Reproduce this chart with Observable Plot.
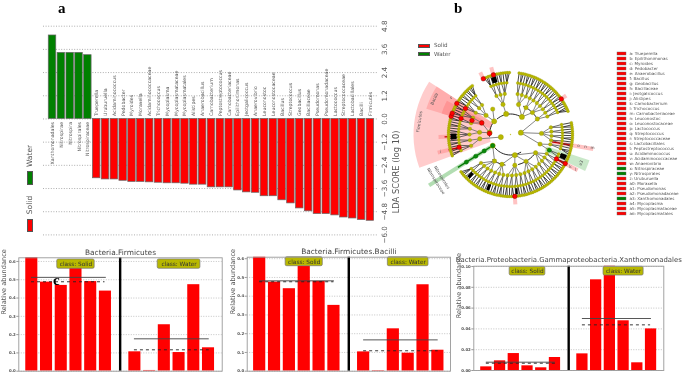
<!DOCTYPE html>
<html><head><meta charset="utf-8">
<script src="https://cdn.jsdelivr.net/npm/d3@7"></script>
<script src="https://cdn.jsdelivr.net/npm/@observablehq/plot@0.6"></script>
<style>
html,body{margin:0;padding:0;background:#fff;}
#root{position:relative;width:685px;height:375px;overflow:hidden;font-family:"DejaVu Sans",sans-serif;filter:blur(0.35px);}
.p{position:absolute;}
.p svg{overflow:visible;max-width:none;}
.tag{position:absolute;font-family:"Liberation Serif",serif;font-weight:bold;font-size:15px;line-height:17px;color:#000;}
.sw{position:absolute;border:0.6px solid #555;box-sizing:border-box;}
.lg{position:absolute;font-size:6px;line-height:8px;color:#555;white-space:nowrap;}
.rot{font-size:7.5px;transform:translate(-50%,-50%) rotate(-90deg);}
</style></head><body><div id="root"></div>
<script>
// ---------- panel a : LDA scores ----------
const waterTaxa = ["Xanthomonadales","Nitrospirae","Nitrospira","Nitrospirales","Nitrospiraceae"];
const waterScores = [4.32,3.42,3.42,3.42,3.3];
const solidTaxa = ["Trueperella","Uruburuella","Acidaminococcus","Pedobacter","Myroides","Moraxella","Acidaminococcaceae","Trichococcus","Mycoplasma","Mycoplasmataceae","Mycoplasmatales","Alistipes","Anaerobacillus","Carnobacterium","Peptostreptococcus","Carnobacteriaceae","Epilithonimonas","Jeotgalicoccus","Anaerovibrio","Leuconostoc","Leuconostocaceae","Bacillus","Streptococcus","Geobacillus","Bacillaceae","Pseudomonas","Pseudomonadaceae","Lactococcus","Streptococcaceae","Lactobacillales","Bacilli","Firmicutes"];
const solidScores = [3.07,3.13,3.13,3.2,3.26,3.26,3.28,3.3,3.33,3.33,3.35,3.4,3.4,3.54,3.54,3.54,3.7,3.8,3.82,4.0,4.0,4.21,4.37,4.63,4.78,4.92,4.92,4.99,5.1,5.15,5.23,5.27];
const ldaTicks = [-6,-4.8,-3.6,-2.4,-1.2,0,1.2,2.4,3.6,4.8];

// ---------- panel b : cladogram (angle clockwise from north, degrees) ----------
const ring5 = [335,337,339,341,343,345,347,349,351,353,355,357,359,
  8,10,12,14,16,18,20,22,24,26,28,30,32,34,36,38,40,42,44,46,48,50,52,54,56,58,60,62,64,66,68,
  79,81,83,85,87,89,91,93,95,97,99,101,103,105,107,109,111,113,115,117,119,121,123,125,127,129,131,133,135,137,139,141,143,145,147,149,151,153,155,157,159,161,163,165,167,169,171,173,175,177,179,181,183,185,187,189,191,193,195,197,199,201,203,205,207,209,211,213,215,217,219,221,223,225,227,229,231,233,
  250,252,254,256,258,260,262,264,266,268,270,272,274,276,278,280,282,284,286,288,290,292,294,296,298,300,302,304,306,308,310,312,314,316,318,320,322];
const ring4 = [338,341,344,347,350,353,356,8,11,14,17,20,23,26,29,32,35,38,41,44,47,50,53,56,59,62,65,
  79,82,85,88,91,94,97,100,103,106,112,115,118,121,124,127,130,133,136,139,142,145,148,151,154,157,160,163,166,169,172,175,178,181,184,187,190,193,196,199,202,205,208,211,214,217,220,223,226,229,
  252,255,258,261,264,267,270,273,276,279,282,285,288,291,294,297,300,303,306,309,312,315,318];
const ring3 = [340,346,352,10,16,22,28,34,40,46,52,58,64,80,86,92,98,104,112,118,124,130,136,142,148,154,160,166,172,178,184,190,196,202,208,214,220,226,254,262,270,278,286,294,302,310,316];
const ring2 = [346,15,30,45,60,88,108,126,150,172,196,211,262,274,292,308,325];
const ring1 = [348,33,168,238,275,309];
const ringRadii = [21,31,41,52,62];
const hubNodes = [{a:255,r:10},{a:80,r:10.5}];
const redNodes = [{a:273,r:21},{a:292,r:31},{a:290,r:41},{a:288,r:52},{a:287,r:62},{a:300,r:52},{a:300,r:62},{a:290,r:62},{a:334,r:62},{a:344,r:62},{a:55,r:62},{a:176,r:62},{a:118,r:52},{a:118,r:62},{a:256,r:53}];
const greenNodes = [{a:238,r:21},{a:238,r:31},{a:238,r:41},{a:238,r:52},{a:112,r:42}];
const wedges = [
  {a0:250,a1:303,r0:21,r1:97,fill:"#ff9999",op:0.5},
  {a0:287,a1:303,r0:21,r1:88,fill:"#ff8080",op:0.4},
  {a0:287,a1:298,r0:31,r1:72,fill:"#ff7070",op:0.4},
  {a0:108,a1:116,r0:38,r1:83,fill:"#88cc88",op:0.45}];
const blackFans = [
  {a0:265,a1:271,r0:54,r1:60},{a0:341,a1:346,r0:54,r1:60},{a0:110,a1:115,r0:54,r1:60},
  {a0:201,a1:204,r0:54,r1:60},{a0:173,a1:175,r0:54,r1:60},{a0:223,a1:226,r0:54,r1:60}];
const arcs = [{a0:320,a1:395,r:20.5},{a0:150,a1:240,r:20.5},{a0:25,a1:62,r:31},{a0:190,a1:215,r:31},{a0:130,a1:165,r:31},{a0:265,a1:300,r:21}];
const strips = [
  {a:100,r0:42,r1:84,c:"#ff8888"},{a:118,r0:51,r1:76,c:"#ff8888"},{a:256,r0:53,r1:75,c:"#ff8888"},{a:268,r0:60,r1:72,c:"#ff8888"},
  {a:334,r0:60,r1:69,c:"#ff8888"},{a:344,r0:60,r1:70,c:"#ff8888"},{a:55,r0:60,r1:68,c:"#ff8888"},{a:176,r0:60,r1:70,c:"#ff8888"},
  {a:238,r0:24,r1:96,c:"#66bb66"}];
const redLinks = [{a:100,r0:42,r1:62},{a:118,r0:52,r1:62},{a:256,r0:53,r1:64},{a:268,r0:60,r1:66}];
const cladeLabels = [
  {a:278,r:92,t:"Firmicutes",rot:-82},{a:295,r:84,t:"Bacilli",rot:-65},{a:112,r:76,t:"a3",rot:-68},
  {a:238,r:88,t:"Nitrospiraceae",rot:58},{a:238,r:81,t:"Nitrospirales",rot:58},
  {a:99,r:69,t:"o",rot:0},{a:99,r:76,t:"n",rot:0},{a:99,r:83,t:"m",rot:0},{a:118,r:68,t:"k",rot:0},{a:118,r:74,t:"l",rot:0},
  {a:256,r:72,t:"i",rot:0},{a:302,r:70,t:"s",rot:0}];

// ---------- legend of panel b ----------
const legendKeys = ["a","b","c","d","e","f","g","h","i","j","k","l","m","n","o","p","q","r","s","t","u","v","w","x","y","z","a0","a1","a2","a3","a4","a5","a6"];
const legendTaxa = ["Trueperella","Epilithonimonas","Myroides","Pedobacter","Anaerobacillus","Bacillus","Geobacillus","Bacillaceae","Jeotgalicoccus","Alistipes","Carnobacterium","Trichococcus","Carnobacteriaceae","Leuconostoc","Leuconostocaceae","Lactococcus","Streptococcus","Streptococcaceae","Lactobacillales","Peptostreptococcus","Acidaminococcus","Acidaminococcaceae","Anaerovibrio","Nitrospiraceae","Nitrospirales","Uruburuella","Moraxella","Pseudomonas","Pseudomonadaceae","Xanthomonadales","Mycoplasma","Mycoplasmataceae","Mycoplasmatales"];
const legendGroup = ["Solid","Solid","Solid","Solid","Solid","Solid","Solid","Solid","Solid","Solid","Solid","Solid","Solid","Solid","Solid","Solid","Solid","Solid","Solid","Solid","Solid","Solid","Solid","Water","Water","Solid","Solid","Solid","Solid","Water","Solid","Solid","Solid"];

// ---------- panel c : relative abundance ----------
const firmicutesSolid = [0.66,0.487,0.469,0.58,0.49,0.438];
const firmicutesWater = [0.106,0.004,0.254,0.102,0.473,0.128];
const bacilliSolid = [0.66,0.475,0.44,0.56,0.479,0.351];
const bacilliWater = [0.103,0.003,0.226,0.096,0.461,0.112];
const xanthoSolid = [0.0035,0.0093,0.0163,0.0045,0.0026,0.0125];
const xanthoWater = [0.016,0.0872,0.105,0.0478,0.0074,0.04];
const abundanceTicksA = [0,0.1,0.2,0.3,0.4,0.5,0.6];
const abundanceTicksB = [0,0.02,0.04,0.06,0.08,0.1];

const root = document.getElementById("root");
function place(svg,left,top){const d=document.createElement("div");d.className="p";d.style.left=left+"px";d.style.top=top+"px";d.appendChild(svg);root.appendChild(d);}
function html(cls,left,top,text,extra){const d=document.createElement("div");d.className=cls;d.style.left=left+"px";d.style.top=top+"px";if(text)d.textContent=text;Object.assign(d.style,extra||{});root.appendChild(d);}
const baseStyle = {background:"transparent",fontFamily:"DejaVu Sans",overflow:"visible"};

// ===== panel a =====
const ldaTable = [
  ...waterTaxa.map((t,i)=>({t,v:waterScores[i],g:"Water"})),
  ...solidTaxa.map((t,i)=>({t,v:-solidScores[i],g:"Solid"}))];
place(Plot.plot({
  width:420,height:240,marginLeft:43,marginRight:42,marginTop:25.7,marginBottom:5.6,style:baseStyle,
  x:{type:"band",domain:ldaTable.map(d=>d.t),range:[47.6,374.3],paddingInner:0.15,paddingOuter:0.075,axis:null},
  y:{domain:[-6,4.8],axis:null},
  color:{domain:["Solid","Water"],range:["#ff0000","#008000"]},
  marks:[
    Plot.ruleY(ldaTicks,{stroke:"#999",strokeWidth:0.8,strokeDasharray:"1,1.6"}),
    Plot.barY(ldaTable,{x:"t",y:"v",fill:"g",stroke:"#666",strokeWidth:0.7}),
    Plot.text(ldaTable.filter(d=>d.g==="Solid"),{x:"t",y:()=>0,text:"t",rotate:-90,textAnchor:"start",dy:-3,fontSize:4.7,fill:"#555"}),
    Plot.text(ldaTable.filter(d=>d.g==="Water"),{x:"t",y:()=>0,text:"t",rotate:-90,textAnchor:"end",dy:3,fontSize:4.7,fill:"#555"}),
    Plot.axisY(ldaTicks,{anchor:"right",tickSize:0,tickPadding:8,tickRotate:-90,fontSize:7.2,fill:"#555",label:null,tickFormat:d3.format(".1f")}),
    Plot.text(["LDA SCORE (log 10)"],{frameAnchor:"right",rotate:-90,dx:18,fontSize:8.3,fill:"#555"})
  ]}),0,0);
html("sw",27,171,"",{width:"6px",height:"14px",background:"#008000"});
html("sw",27,219,"",{width:"6px",height:"13px",background:"#ff0000"});
html("lg rot",30,156,"Water");
html("lg rot",30,205,"Solid");

// ===== panel b =====
const rad = a=>a*Math.PI/180, px=(a,r)=>r*Math.sin(rad(a)), py=(a,r)=>-r*Math.cos(rad(a));
const rings = [ring1,ring2,ring3,ring4,ring5].map((arr,k)=>arr.map(a=>({a,r:ringRadii[k]})));
const angDist=(p,q)=>{const d=Math.abs(p-q)%360;return d>180?360-d:d;};
const links = [];
rings.forEach((nodes,k)=>{
  if(k===0) return;
  const parents = k===1 ? [...rings[0],...hubNodes] : rings[k-1];
  for(const n of nodes){
    const par = d3.least(parents,p=>angDist(p.a,n.a));
    links.push({x1:px(par.a,par.r),y1:py(par.a,par.r),x2:px(n.a,n.r),y2:py(n.a,n.r),outer:k});
  }
});
const sectorPts = w=>{const s=[];for(let a=w.a0;a<=w.a1+.01;a+=(w.a1-w.a0)/14)s.push({a,r:w.r1});for(let a=w.a1;a>=w.a0-.01;a-=(w.a1-w.a0)/14)s.push({a,r:w.r0});return s;};
const X=d=>px(d.a,d.r), Y=d=>py(d.a,d.r);
const arcPts = c=>{const s=[];for(let a=c.a0;a<=c.a1+.01;a+=5)s.push({a,r:c.r});return s;};
const stripLink = s=>({x1:px(s.a,s.r0),y1:py(s.a,s.r0),x2:px(s.a,s.r1),y2:py(s.a,s.r1),c:s.c});
const olive="#b8b800", oliveEdge="#8a8a00";
place(Plot.plot({
  width:200,height:190,margin:0,style:baseStyle,
  x:{domain:[-105,95],axis:null},
  y:{domain:[-104,86],range:[0,190],axis:null},
  marks:[
    ...wedges.map(w=>Plot.line(sectorPts(w),{x:X,y:Y,fill:w.fill,fillOpacity:w.op,stroke:"none"})),
    Plot.link(strips.map(stripLink),{x1:"x1",y1:"y1",x2:"x2",y2:"y2",stroke:"c",strokeWidth:4,strokeOpacity:0.5}),
    Plot.link(links.filter(d=>d.outer===4),{x1:"x1",y1:"y1",x2:"x2",y2:"y2",stroke:"#222",strokeWidth:1,strokeOpacity:0.85}),
    Plot.link(links.filter(d=>d.outer===3),{x1:"x1",y1:"y1",x2:"x2",y2:"y2",stroke:"#444",strokeWidth:1,strokeOpacity:0.8}),
    Plot.link(links.filter(d=>d.outer<3),{x1:"x1",y1:"y1",x2:"x2",y2:"y2",stroke:"#666",strokeWidth:0.8}),
    ...blackFans.map(w=>Plot.line(sectorPts(w),{x:X,y:Y,fill:"#000",stroke:"none"})),
    ...arcs.map(c=>Plot.line(arcPts(c),{x:X,y:Y,stroke:"#222",strokeWidth:1})),
    Plot.link(redLinks.map(s=>stripLink({...s,c:"#d00000"})),{x1:"x1",y1:"y1",x2:"x2",y2:"y2",stroke:"#c00000",strokeWidth:1.2}),
    Plot.link([{a:238,r0:21,r1:62}].map(s=>stripLink({...s,c:"#087a08"})),{x1:"x1",y1:"y1",x2:"x2",y2:"y2",stroke:"#087a08",strokeWidth:1.6}),
    Plot.dot(rings[4],{x:X,y:Y,r:1.5,fill:olive,stroke:oliveEdge,strokeWidth:0.2}),
    Plot.dot(rings[3],{x:X,y:Y,r:1.5,fill:olive,stroke:oliveEdge,strokeWidth:0.2}),
    Plot.dot(rings[2],{x:X,y:Y,r:1.8,fill:olive,stroke:oliveEdge,strokeWidth:0.3}),
    Plot.dot(rings[1],{x:X,y:Y,r:2.2,fill:olive,stroke:oliveEdge,strokeWidth:0.3}),
    Plot.dot(rings[0],{x:X,y:Y,r:2.6,fill:olive,stroke:oliveEdge,strokeWidth:0.3}),
    Plot.dot(hubNodes,{x:X,y:Y,r:2.6,fill:olive,stroke:oliveEdge,strokeWidth:0.3}),
    Plot.dot([{a:0,r:0}],{x:X,y:Y,r:0.7,fill:"#c8c840"}),
    Plot.dot(redNodes,{x:X,y:Y,r:2.3,fill:"#ff0000",stroke:"#700",strokeWidth:0.4}),
    Plot.dot(greenNodes,{x:X,y:Y,r:2.1,fill:"#0a8a0a",stroke:"#060",strokeWidth:0.4}),
    ...cladeLabels.map(l=>Plot.text([l],{x:X,y:Y,text:"t",rotate:l.rot,fontSize:4.2,fill:"#555"}))
  ]}),405,30);
html("sw",418,43.5,"",{width:"12px",height:"4px",background:"#ff0000"});
html("sw",418,51.5,"",{width:"12px",height:"4px",background:"#008000"});
html("lg",434,41,"Solid",{fontSize:"5.6px"});
html("lg",434,49.5,"Water",{fontSize:"5.6px"});

const legendRows = legendKeys.map((k,i)=>({label:k+": "+legendTaxa[i],g:legendGroup[i]}));
place(Plot.plot({
  width:73,height:196,marginTop:2,marginBottom:2.6,marginLeft:0,marginRight:0,style:baseStyle,
  x:{domain:[0,1],range:[5,14],axis:null},
  y:{type:"band",domain:legendRows.map(d=>d.label),paddingInner:0.35,paddingOuter:0.15,axis:null},
  color:{domain:["Solid","Water"],range:["#ff0000","#008000"]},
  marks:[
    Plot.barX(legendRows,{x1:()=>0,x2:()=>1,y:"label",fill:"g",stroke:"#666",strokeWidth:0.4}),
    Plot.text(legendRows,{x:()=>1,y:"label",text:"label",textAnchor:"start",dx:3,fontSize:4.1,fill:"#555"})
  ]}),612,36);

// ===== panel c =====
function abundance(cfg){
  const rows=[...cfg.solid.map((v,i)=>({s:i,v})),...cfg.water.map((v,i)=>({s:i+7,v}))];
  const fmt=d3.format(cfg.fmt);
  place(Plot.plot({
    width:cfg.w,height:cfg.h,marginLeft:cfg.ml,marginRight:cfg.mr,marginTop:cfg.mt,marginBottom:cfg.mb,style:baseStyle,
    x:{domain:cfg.xdom,axis:null},
    y:{domain:cfg.ydom,axis:null},
    marks:[
      Plot.ruleY(cfg.ticks,{stroke:"#aaa",strokeWidth:0.7,strokeDasharray:"1,1.5"}),
      Plot.rectY(rows,{x1:d=>d.s-0.41,x2:d=>d.s+0.41,y1:()=>0,y2:"v",fill:"#ff0000",clip:true}),
      Plot.ruleX([6],{stroke:"#000",strokeWidth:2.4}),
      Plot.ruleY(cfg.means,{x1:"x1",x2:"x2",y:"y",stroke:"#444",strokeWidth:0.9}),
      Plot.ruleY(cfg.medians,{x1:"x1",x2:"x2",y:"y",stroke:"#222",strokeWidth:0.9,strokeDasharray:"3,3"}),
      Plot.rect(cfg.tags,{x1:d=>d.x-d.w/2,x2:d=>d.x+d.w/2,y1:()=>cfg.tagY[0],y2:()=>cfg.tagY[1],fill:"#b8b800",stroke:"#777",strokeWidth:0.7,rx:1.5}),
      Plot.text(cfg.tags,{x:"x",y:()=>(cfg.tagY[0]+cfg.tagY[1])/2,text:"t",fontSize:5.8,fill:"#333"}),
      Plot.frame({stroke:"#999",strokeWidth:0.9}),
      Plot.axisY(cfg.ticks,{anchor:"left",tickSize:2,tickPadding:1,fontSize:3.9,fontWeight:"bold",fill:"#555",stroke:"#555",strokeWidth:0.6,label:null,tickFormat:d=>fmt(d)}),
      Plot.text([cfg.title],{frameAnchor:"top",dy:cfg.titleDy,dx:cfg.titleDx||0,fontSize:cfg.titleSize||7.4,fill:"#444"}),
      Plot.text(["Relative abundance"],{frameAnchor:"left",rotate:-90,dx:cfg.labelDx,fontSize:6.6,fill:"#555"})
    ]}),cfg.left,cfg.top);
}
const tagsOf=(wS,wW)=>[{x:3,w:wS,t:"class: Solid"},{x:10,w:wW,t:"class: Water"}];
abundance({left:0,top:240,w:226,h:135,ml:18.3,mr:4.3,mt:17.3,mb:4.3,
  xdom:[-0.883,12.93],ydom:[0,0.62],ticks:abundanceTicksA,fmt:".1f",solid:firmicutesSolid,water:firmicutesWater,
  means:[{x1:-0.02,x2:5.06,y:0.513},{x1:6.97,x2:12.05,y:0.177}],
  medians:[{x1:-0.02,x2:4.97,y:0.489},{x1:6.97,x2:12.05,y:0.117}],
  tags:tagsOf(2.54,2.9),tagY:[0.56,0.611],title:"Bacteria.Firmicutes",titleDy:-8,labelDx:-14.5});
abundance({left:226,top:240,w:226,h:135,ml:20.7,mr:2,mt:16.7,mb:4.3,
  xdom:[-0.84,12.85],ydom:[0,0.608],ticks:abundanceTicksA,fmt:".1f",solid:bacilliSolid,water:bacilliWater,
  means:[{x1:0,x2:5.03,y:0.482},{x1:7.0,x2:12.02,y:0.167}],
  medians:[{x1:0,x2:5.0,y:0.477},{x1:7.0,x2:12.02,y:0.109}],
  tags:tagsOf(2.5,2.74),tagY:[0.56,0.608],title:"Bacteria.Firmicutes.Bacilli",titleDy:-8,labelDx:-14.5});
abundance({left:452,top:240,w:233,h:135,ml:21.3,mr:21.7,mt:25.7,mb:5,
  xdom:[-0.913,12.93],ydom:[0,0.1003],ticks:abundanceTicksB,fmt:".2f",solid:xanthoSolid,water:xanthoWater,
  means:[{x1:0,x2:5.03,y:0.008},{x1:7,x2:12.03,y:0.05}],
  medians:[{x1:0,x2:5.03,y:0.007},{x1:7,x2:11.97,y:0.0439}],
  tags:[{x:3,w:2.6,t:"class: Solid"},{x:10,w:2.92,t:"class: Water"}],tagY:[0.0913,0.0997],title:"Bacteria.Proteobacteria.Gammaproteobacteria.Xanthomonadales",titleDy:-9,titleSize:6.9,labelDx:-14.5});

html("tag",58,0,"a");
html("tag",454,0,"b");
html("tag",53,272,"c");
</script></body></html>
